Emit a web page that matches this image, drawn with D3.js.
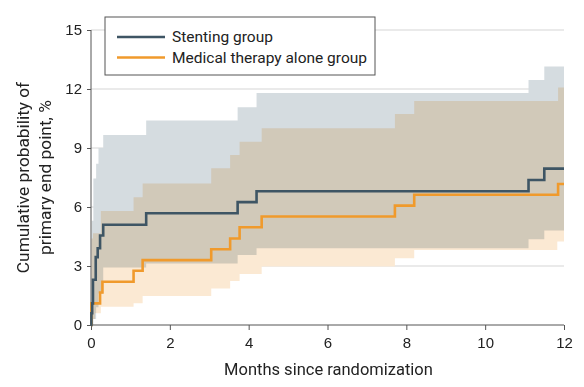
<!DOCTYPE html>
<html>
<head>
<meta charset="utf-8">
<script src="https://cdn.jsdelivr.net/npm/d3@7"></script>
<style>
  body { margin: 0; background: #fff; }
  svg { display: block; font-family: Roboto, "Noto Sans", sans-serif; }
  .band { mix-blend-mode: multiply; }
  .axis path, .axis line { stroke: #555; }
  .axis text { fill: #222; font-size: 15px; }
</style>
</head>
<body>
<div id="chart"></div>
<script>
var svgWidth = 584;
var svgHeight = 387;

var chartMargin = { top: 30, right: 20, bottom: 62, left: 91 };
var width = svgWidth - chartMargin.left - chartMargin.right;
var height = svgHeight - chartMargin.top - chartMargin.bottom;

// series names
var groups = ["Stenting group", "Medical therapy alone group"];
var xTicks = [0, 2, 4, 6, 8, 10, 12];
var yTicks = [0, 3, 6, 9, 12, 15];

// stenting: estimate and 95% CI (months, %)
var stentTimes = [0, 0.01, 0.03, 0.05, 0.12, 0.17, 0.23, 0.31, 1.4, 3.72, 4.2, 11.1, 11.5, 12];
var stentRisk  = [0, 0.6, 1.1, 2.3, 3.45, 3.9, 4.55, 5.1, 5.68, 6.25, 6.8, 7.37, 7.95, 7.95];
var stentCiTimes = [0, 0.02, 0.06, 0.13, 0.19, 0.31, 1.4, 3.72, 4.2, 11.1, 11.5, 12];
var stentUpper   = [0, 5.3, 7.45, 8.2, 9.0, 9.66, 10.4, 11.07, 11.8, 12.46, 13.15, 13.15];
var stentLower   = [0, 0, 0.3, 0.9, 1.6, 2.93, 3.13, 3.56, 3.9, 4.36, 4.8, 4.8];

// medical therapy alone: estimate and 95% CI
var medTimes = [0, 0.01, 0.23, 0.29, 1.08, 1.31, 3.05, 3.53, 3.77, 4.33, 7.71, 8.2, 11.85, 12];
var medRisk  = [0, 1.1, 1.65, 2.2, 2.76, 3.3, 3.85, 4.4, 4.97, 5.52, 6.07, 6.62, 7.17, 7.17];
var medCiTimes = [0, 0.01, 0.05, 0.1, 0.25, 1.08, 1.31, 3.05, 3.53, 3.77, 4.33, 7.71, 8.2, 11.83, 11.85, 12];
var medUpper   = [0, 4.4, 4.66, 4.66, 5.8, 6.49, 7.2, 7.97, 8.64, 9.32, 10.0, 10.73, 11.39, 11.39, 12.07, 12.07];
var medLower   = [0, 0, 0.3, 0.6, 0.93, 1.1, 1.47, 1.86, 2.24, 2.59, 2.97, 3.4, 3.81, 4.24, 4.24, 4.24];

var colors = ["#3e5564", "#f09a2c"];
var bandColors = ["#d5dce0", "#fbe9d3"];

var svg = d3.select("#chart")
    .append("svg")
    .attr("width", svgWidth)
    .attr("height", svgHeight);

var chartGroup = svg.append("g")
    .attr("transform", `translate(${chartMargin.left}, ${chartMargin.top})`);

var xScale = d3.scaleLinear().domain([0, 12]).range([0, width]);
var yScale = d3.scaleLinear().domain([0, 15]).range([height, 0]);

// gridlines
chartGroup.append("g")
    .selectAll("line")
    .data(yTicks.filter(d => d > 0))
    .enter()
    .append("line")
    .attr("x1", 0)
    .attr("x2", width)
    .attr("y1", d => yScale(d))
    .attr("y2", d => yScale(d))
    .attr("stroke", "#e3e3e3")
    .attr("stroke-width", 1.5);

function zipBand(times, lower, upper) {
    return times.map((t, i) => ({ t: t, lo: lower[i], hi: upper[i] }));
}
function zipLine(times, vals) {
    return times.map((t, i) => ({ t: t, v: vals[i] }));
}

var area = d3.area()
    .curve(d3.curveStepAfter)
    .x(d => xScale(d.t))
    .y0(d => yScale(d.lo))
    .y1(d => yScale(d.hi));

var line = d3.line()
    .curve(d3.curveStepAfter)
    .x(d => xScale(d.t))
    .y(d => yScale(d.v));

var bands = [zipBand(stentCiTimes, stentLower, stentUpper), zipBand(medCiTimes, medLower, medUpper)];
var lines = [zipLine(stentTimes, stentRisk), zipLine(medTimes, medRisk)];

var bandGroup = chartGroup.append("g").style("isolation", "isolate");
bands.forEach(function(b, i) {
    bandGroup.append("path")
        .datum(b)
        .attr("class", "band")
        .attr("d", area)
        .attr("fill", bandColors[i]);
});

// axes
var bottomAxis = d3.axisBottom(xScale).tickValues(xTicks).tickSize(5).tickPadding(7);
var leftAxis = d3.axisLeft(yScale).tickValues(yTicks).tickSize(4).tickPadding(5);

chartGroup.append("g")
    .attr("class", "axis")
    .attr("transform", `translate(0, ${height})`)
    .call(bottomAxis)
    .call(g => g.select(".domain").attr("d", `M0,0H${width}`));

chartGroup.append("g")
    .attr("class", "axis")
    .call(leftAxis)
    .call(g => g.select(".domain").attr("d", `M0,${height}V0`));

// step lines (medical first so stenting sits on top where they meet)
[1, 0].forEach(function(i) {
    chartGroup.append("path")
        .datum(lines[i])
        .attr("d", line)
        .attr("fill", "none")
        .attr("stroke", colors[i])
        .attr("stroke-width", 2.6);
});

// legend
var legend = svg.append("g").attr("transform", "translate(105, 17)");
legend.append("rect")
    .attr("width", 270)
    .attr("height", 58)
    .attr("fill", "#fff")
    .attr("stroke", "#555")
    .attr("stroke-width", 1);

groups.forEach(function(name, i) {
    var yy = 20 + i * 20.5;
    legend.append("line")
        .attr("x1", 12).attr("x2", 60)
        .attr("y1", yy).attr("y2", yy)
        .attr("stroke", colors[i])
        .attr("stroke-width", 2.5);
    legend.append("text")
        .attr("x", 67)
        .attr("y", yy)
        .attr("dy", "0.35em")
        .attr("fill", "#222")
        .style("font-size", "15.5px")
        .text(name);
});

// axis titles
svg.append("text")
    .attr("x", chartMargin.left + width / 2 + 1)
    .attr("y", 375)
    .attr("text-anchor", "middle")
    .attr("fill", "#222")
    .style("font-size", "16.5px")
    .text("Months since randomization");

var yTitle = svg.append("text")
    .attr("transform", `translate(0, ${chartMargin.top + height / 2}) rotate(-90)`)
    .attr("text-anchor", "middle")
    .attr("fill", "#222")
    .style("font-size", "17.3px");
yTitle.append("tspan").attr("x", 0).attr("y", 29).text("Cumulative probability of");
yTitle.append("tspan").attr("x", 0).attr("y", 51).text("primary end point, %");
</script>
</body>
</html>
